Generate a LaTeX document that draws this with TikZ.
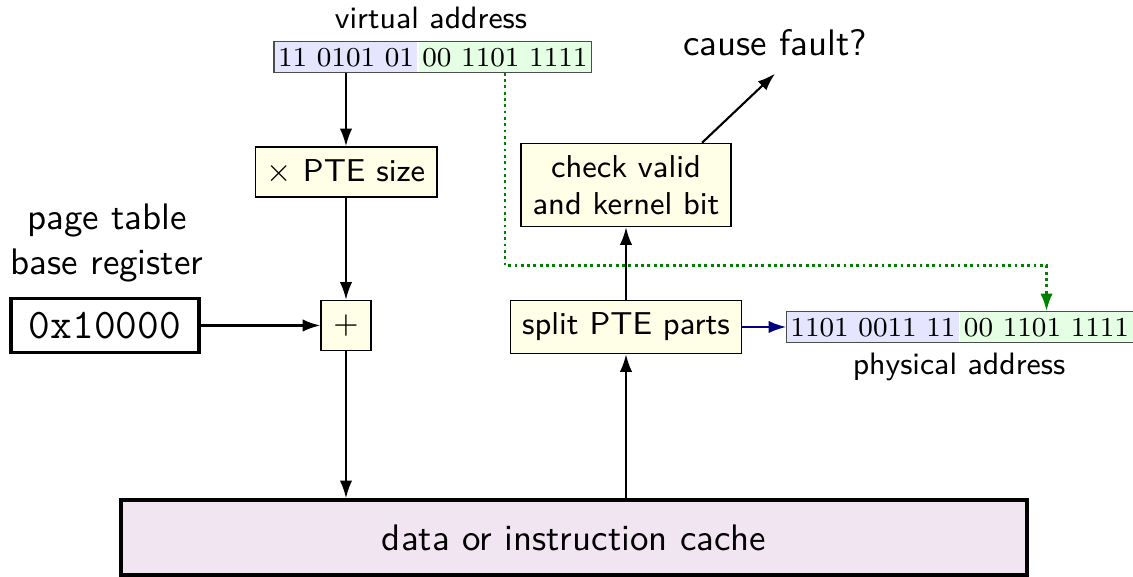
\documentclass[tikz,border=0pt]{standalone}
\usepackage{tikz}
\usepackage{xcolor}
\usetikzlibrary{arrows.meta}
\renewcommand{\familydefault}{\sfdefault}

\tikzset{
    unit/.style={draw, fill=yellow!10, align=center, inner xsep=3.3pt,
        font=\fontsize{9}{10.5}\selectfont},
    bits/.style={inner xsep=1pt, inner ysep=0pt, minimum height=0.3cm,
        text height=5.9pt, text depth=0.5pt, font=\rmfamily\fontsize{7.8}{9}\selectfont},
    bigtext/.style={align=center, font=\fontsize{10.5}{12.8}\selectfont},
    smalltext/.style={font=\fontsize{8.8}{10}\selectfont},
    flow/.style={line width=0.6pt, -{Latex[length=5pt,width=3.5pt]}},
}

\begin{document}
\begin{tikzpicture}[x=0.01cm, y=-0.01cm]
    \useasboundingbox (0,0) rectangle (1133,577);
    % virtual address
    \node[smalltext] (valabel) at (431,18) {virtual address};
    \node[bits, fill=blue!10] (vaHigh) at (346,57) {11 0101 01};
    \node[bits, fill=green!10, anchor=west] (vaLow) at (vaHigh.east) {00 1101 1111};
    \draw[black!70] (vaHigh.north west) rectangle (vaLow.south east);
    % address computation
    \node[unit, minimum height=0.5cm] (mul) at (346,172) {$\times$ PTE size};
    \node[unit, minimum size=0.5cm, inner sep=0pt] (plus) at (346,325.5) {$+$};
    \node[bigtext] (ptbrlabel) at (107,243) {page table\\base register};
    \node[draw, line width=1pt, minimum width=1.88cm, minimum height=0.54cm,
        font=\ttfamily\fontsize{12}{14}\selectfont] (ptbr) at (105,325.5) {0x10000};
    \node[draw, line width=1pt, fill=violet!10, minimum width=9.05cm, minimum height=0.75cm,
        font=\fontsize{10.5}{12}\selectfont] (cache) at (574,537.5) {data or instruction cache};
    % PTE handling
    \node[unit, minimum height=0.53cm] (split) at (626,327) {split PTE parts};
    \node[unit, minimum height=0.83cm] (check) at (626,185) {check valid\\and kernel bit};
    \node[bigtext] (fault) at (775,43) {cause fault?};
    % physical address
    \node[bits, fill=blue!10] (paHigh) at (873,327) {1101 0011 11};
    \node[bits, fill=green!10, anchor=west] (paLow) at (paHigh.east) {00 1101 1111};
    \draw[black!70] (paHigh.north west) rectangle (paLow.south east);
    \node[smalltext] (palabel) at (959,367) {physical address};

    \draw[flow, green!50!black, line width=0.8pt, densely dotted] (vaLow.south) -- ++(0,193) -| (paLow.north);
    \draw[flow] (vaHigh.south) -- (mul.north);
    \draw[flow] (mul.south) -- (plus.north);
    \draw[flow] (ptbr.east) -- (plus.west);
    \draw[flow] (plus.south) -- (plus |- cache.north);
    \draw[flow] (cache.north -| split) -- (split.south);
    \draw[flow] (split.north) -- (check.south);
    \draw[flow] ([xshift=0.76cm]check.north) -- ([yshift=-0.05cm]fault.south);
    \draw[flow, blue!50!black] (split.east) -- (paHigh.west);
\end{tikzpicture}
\end{document}
